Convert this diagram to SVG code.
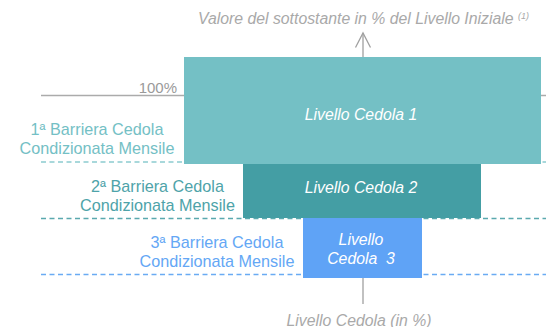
<svg xmlns="http://www.w3.org/2000/svg" width="546" height="327" viewBox="0 0 546 327">
<style>
.gray{font-family:"Liberation Sans",Arial,sans-serif;font-style:italic;fill:#a9a9a9;font-size:15.8px}
.lbl{font-family:"Liberation Sans",Arial,sans-serif;font-size:16.2px;text-anchor:middle}
.box{font-family:"Liberation Sans",Arial,sans-serif;font-style:italic;fill:#ffffff;font-size:15.8px;text-anchor:middle}
.dash{fill:none;stroke-width:1.4;stroke-dasharray:5 3.5}
</style>
<rect width="546" height="327" fill="#ffffff"/>
<g id="connectors">
  <line x1="41" y1="95.5" x2="546" y2="95.5" stroke="#ababab" stroke-width="1.4"/>
  <line class="dash" x1="41" y1="162" x2="546" y2="162" stroke="#8ccbd0"/>
  <line class="dash" x1="41" y1="218.5" x2="546" y2="218.5" stroke="#5aa9ae"/>
  <line class="dash" x1="41" y1="274.5" x2="546" y2="274.5" stroke="#6aabf3"/>
  <line x1="363" y1="33" x2="363" y2="57" stroke="#a0a0a0" stroke-width="1.3"/>
  <polyline points="355.5,47.5 363,33 370.5,47.5" fill="none" stroke="#a0a0a0" stroke-width="1.3"/>
  <line x1="363" y1="278" x2="363" y2="304" stroke="#a0a0a0" stroke-width="1.3"/>
</g>
<g id="axis-top">
  <text class="gray" x="198" y="24">Valore del sottostante in % del Livello Iniziale <tspan font-size="9" dy="-5">(1)</tspan></text>
</g>
<g id="axis-bottom">
  <text class="gray" x="359" y="325.5" text-anchor="middle">Livello Cedola (in %)</text>
</g>
<g id="label-100">
  <text x="177" y="93" font-family="Liberation Sans,Arial,sans-serif" font-size="15" fill="#9a9a9a" text-anchor="end">100%</text>
</g>
<g id="livello-cedola-1">
  <rect x="184" y="57" width="357" height="107" fill="#74c0c5"/>
  <text class="box" x="361" y="120">Livello Cedola 1</text>
</g>
<g id="livello-cedola-2">
  <rect x="243" y="164" width="238" height="54" fill="#449ea4"/>
  <text class="box" x="361" y="192.5">Livello Cedola 2</text>
</g>
<g id="livello-cedola-3">
  <rect x="303" y="218" width="119" height="60" fill="#5fa3f6"/>
  <text class="box" x="361" y="245">Livello</text>
  <text class="box" x="361" y="264" xml:space="preserve">Cedola  3</text>
</g>
<g id="barriera-1">
  <text class="lbl" x="97" y="134.5" fill="#74c0c5">1ª Barriera Cedola</text>
  <text class="lbl" x="97" y="153.5" fill="#74c0c5">Condizionata Mensile</text>
</g>
<g id="barriera-2">
  <text class="lbl" x="157.5" y="191.5" fill="#4ea3a9">2ª Barriera Cedola</text>
  <text class="lbl" x="157.5" y="210.5" fill="#4ea3a9">Condizionata Mensile</text>
</g>
<g id="barriera-3">
  <text class="lbl" x="217" y="247.5" fill="#64a7f5">3ª Barriera Cedola</text>
  <text class="lbl" x="217" y="266.5" fill="#64a7f5">Condizionata Mensile</text>
</g>
</svg>
